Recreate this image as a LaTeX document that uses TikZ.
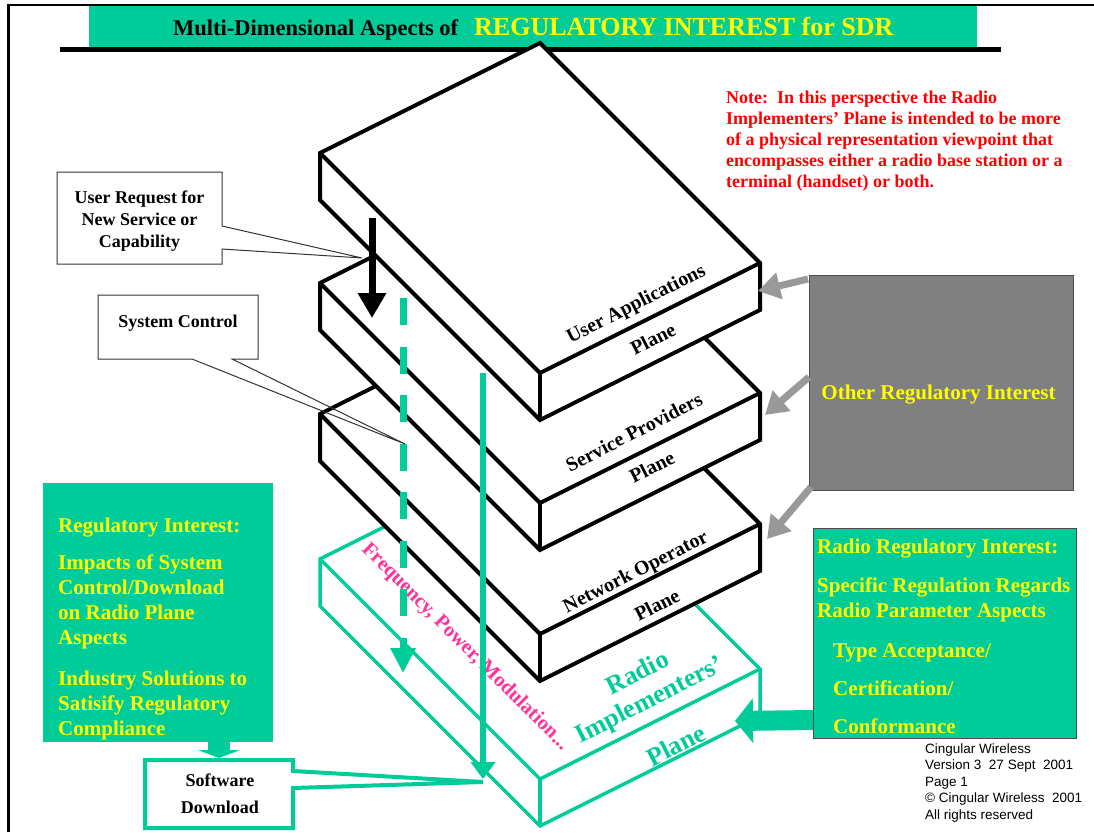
\documentclass[tikz,border=0pt]{standalone}
\usepackage{fontspec}
\setmainfont{Liberation Serif}
\newfontfamily\footfont{Liberation Sans}
\usetikzlibrary{arrows.meta}
\definecolor{sdrgreen}{HTML}{00CC99}
\definecolor{sdryellow}{HTML}{FFFF00}
\definecolor{sdrpink}{HTML}{FF3399}
\definecolor{sdrgray}{HTML}{808080}
\definecolor{sdrarrow}{HTML}{999999}
\newcommand\fsz[2]{\fontsize{#1}{#2}\selectfont}
\newcommand\Llines[2]{\vtop{\baselineskip=#1\relax\lineskiplimit=-100pt\relax\halign{##\hfil\cr#2\crcr}}}
\newcommand\Clines[2]{\vtop{\baselineskip=#1\relax\lineskiplimit=-100pt\relax\halign{\hfil##\hfil\cr#2\crcr}}}
\newcommand\drawplane[2]{%
  \draw[#2] (320,#1) -- ++(220,-110) -- ++(220,220) -- ++(0,47) -- ++(-220,110) -- ++(-220,-220) -- cycle;
  \draw[#2,fill=none] (320,#1) -- ++(220,220) -- ++(220,-110);
  \draw[#2,fill=none] (540,#1+220) -- ++(0,47);
}
\begin{document}
\begin{tikzpicture}[x=1pt,y=-1pt,
  planeblk/.style={draw=black, line width=4pt, fill=white, line join=miter},
  planegrn/.style={draw=sdrgreen, line width=3.5pt, fill=white, line join=miter},
  lbl/.style={font=\bfseries\fsz{20}{24}, inner sep=0pt, rotate=27},
  rlbl/.style={font=\bfseries\fsz{26}{30}, text=sdrgreen, inner sep=0pt, rotate=27},
  boxtxt/.style={inner sep=0pt, font=\bfseries\fsz{21}{25}, text=sdryellow},
  blacktxt/.style={inner sep=0pt, font=\bfseries\fsz{18}{22}},
  callout/.style={draw=black!80, line width=1pt},
  grayarrow/.style={draw=sdrarrow, line width=7pt, -{Triangle[length=22pt,width=26pt]}},
]
\useasboundingbox (0,0) rectangle (1094,832);
\fill[white] (0,0) rectangle (1094,832);
% border
\draw[line width=2.5pt] (8.5,832) -- (8.5,5) -- (1094,5);
% title
\fill[sdrgreen] (89,6.5) rectangle (977,48);
\draw[line width=5pt] (60,50) -- (1001,50);
\node[inner sep=0, anchor=base west, font=\bfseries\fsz{22.5}{26}] (titleA) at (173,36) {Multi-Dimensional Aspects of};
\node[inner sep=0, anchor=base west, font=\bfseries\fsz{26}{30}, text=sdryellow] (titleB) at (474,36) {REGULATORY INTEREST for SDR};
% note
\node[inner sep=0, anchor=base west, font=\bfseries\fsz{18}{21}, text=red] (note) at (726,104) {\Llines{20.8pt}{Note:\ \ In this perspective the Radio\cr Implementers’ Plane is intended to be more\cr of a physical representation viewpoint that\cr encompasses either a radio base station or a\cr terminal (handset) or both.}};
% boxes
\node[fill=sdrgreen, minimum width=230pt, minimum height=259pt, anchor=north west, inner sep=0, outer sep=0] (leftBox) at (43,483) {};
\node[boxtxt, anchor=base west] (leftTxt) at (58,532) {\Llines{25.3pt}{Regulatory Interest:\cr\noalign{\vskip11.7pt}Impacts of System\cr Control/Download\cr on Radio Plane\cr Aspects\cr\noalign{\vskip14.8pt}Industry Solutions to\cr Satisify Regulatory\cr Compliance}};
\node[fill=sdrgreen, draw=black!70, line width=1pt, minimum width=263pt, minimum height=210pt, anchor=north west, inner sep=0] (rightBox) at (813,528) {};
\node[boxtxt, anchor=base west] (rightTxt) at (817,553) {\Llines{25pt}{Radio Regulatory Interest:\cr\noalign{\vskip14pt}Specific Regulation Regards\cr Radio Parameter Aspects\cr\noalign{\vskip15pt}\hskip16pt Type Acceptance/\cr\noalign{\vskip13pt}\hskip16pt Certification/\cr\noalign{\vskip13pt}\hskip16pt Conformance}};
\node[fill=sdrgray, draw=black!70, line width=1.2pt, minimum width=264pt, minimum height=215pt, anchor=north west, inner sep=0] (otherBox) at (809,275) {};
\node[boxtxt, anchor=base] (otherTxt) at (938.5,399) {Other Regulatory Interest};
% planes (back to front)
\drawplane{559}{planegrn}
\drawplane{414}{planeblk}
\drawplane{283}{planeblk}
\drawplane{153}{planeblk}
% plane labels
\node[lbl] (ua) at (636.5,305) {User Applications};
\node[lbl] (uap) at (653,339) {Plane};
\node[lbl] (sp) at (634,432) {Service Providers};
\node[lbl] (spp) at (652,467) {Plane};
\node[lbl] (no) at (636,573) {Network Operator};
\node[lbl] (nop) at (657,605) {Plane};
\node[rlbl] (ri1) at (637,672) {Radio};
\node[rlbl] (ri2) at (650,701) {Implementers’};
\node[rlbl] (ri3) at (676,745) {Plane};
\node[inner sep=0, rotate=-45, font=\bfseries\fsz{20.5}{24}, text=sdrpink] (freq) at (465,647) {Frequency, Power, Modulation...};
% vertical arrows
\coordinate (dashS) at (403,298);
\coordinate (dashE) at (403,673);
\coordinate (solS) at (483,373);
\coordinate (solE) at (483,779);
\coordinate (blkS) at (372,218);
\coordinate (blkE) at (372,318);
\draw[sdrgreen, line width=7pt, dash pattern=on 27pt off 21.5pt, -{Triangle[length=25pt,width=24pt]}] (dashS) -- (dashE);
\draw[sdrgreen, line width=6pt, -{Triangle[length=17pt,width=24pt]}] (solS) -- (solE);
\draw[line width=7pt, -{Triangle[length=25pt,width=27pt]}] (blkS) -- (blkE);
% callouts
\fill[white] (57,172) rectangle (222,264);
\draw[callout] (57,172) -- (222,172) -- (222,226) -- (362,258) -- (222,249) -- (222,264) -- (57,264) -- cycle;
\node[blacktxt, anchor=base] (req) at (139.5,203.3) {\Clines{22pt}{User Request for\cr New Service or\cr Capability}};
\fill[white] (98,295) rectangle (258,359);
\draw[callout] (98,295) -- (258,295) -- (258,359) -- (232,359) -- (405,444) -- (192,359) -- (98,359) -- cycle;
\node[blacktxt, anchor=base] (sys) at (178,327.7) {System Control};
\filldraw[draw=sdrgreen, line width=4pt, fill=white, line join=miter] (145,760) -- (293,760) -- (293,771) -- (483,782) -- (293,788) -- (293,828) -- (145,828) -- cycle;
\node[blacktxt, anchor=base] (sw) at (220,786) {\Clines{27pt}{Software\cr Download}};
% gray arrows
\coordinate (g1s) at (808,279); \coordinate (g1e) at (758,291);
\coordinate (g2s) at (809,377); \coordinate (g2e) at (765,415);
\coordinate (g3s) at (811,487); \coordinate (g3e) at (767,539);
\draw[grayarrow] (g1s) -- (g1e);
\draw[grayarrow] (g2s) -- (g2e);
\draw[grayarrow] (g3s) -- (g3e);
% green fat arrows
\coordinate (rgS) at (813,720); \coordinate (rgE) at (735,721);
\draw[sdrgreen, line width=20pt, -{Triangle[length=18pt,width=44pt]}] (rgS) -- (rgE);
\coordinate (lgS) at (219,742); \coordinate (lgE) at (219,758);
\draw[sdrgreen, line width=22pt, -{Triangle[length=8pt,width=42pt]}] (lgS) -- (lgE);
% footer
\node[inner sep=0, anchor=base west, font=\footfont\fsz{13.5}{16.5}] (footer) at (925,753) {\Llines{16.5pt}{Cingular Wireless\cr Version 3\ \ 27 Sept\ \ 2001\cr Page 1\cr ©\ Cingular Wireless\ \ 2001\cr All rights reserved}};
\end{tikzpicture}
\end{document}
